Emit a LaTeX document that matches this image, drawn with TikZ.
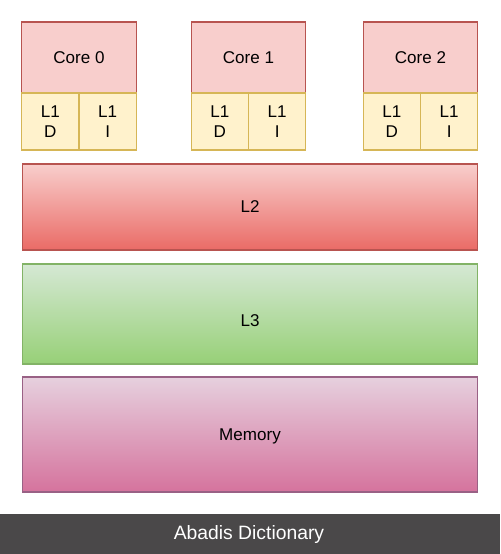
\documentclass[tikz,border=0pt]{standalone}
\usepackage{fontspec}
\setmainfont{Liberation Sans}
\usetikzlibrary{positioning}

\definecolor{corefill}{HTML}{F8CECC}
\definecolor{coreline}{HTML}{B85450}
\definecolor{lonefill}{HTML}{FFF2CC}
\definecolor{loneline}{HTML}{D6B656}
\definecolor{ltwobot}{HTML}{EA6B66}
\definecolor{lthreetop}{HTML}{D5E8D4}
\definecolor{lthreebot}{HTML}{97D077}
\definecolor{lthreeline}{HTML}{82B366}
\definecolor{memtop}{HTML}{E6D0DE}
\definecolor{membot}{HTML}{D5739D}
\definecolor{memline}{HTML}{996185}
\definecolor{bannerbg}{HTML}{4A4849}

\tikzset{
    corebox/.style={draw=coreline, fill=corefill, line width=0.6pt, minimum width=2.29cm, minimum height=1.42cm, inner sep=0pt, outer sep=0pt},
    lonebox/.style={draw=loneline, fill=lonefill, line width=0.6pt, minimum width=1.145cm, minimum height=1.14cm, inner sep=0pt, outer sep=0pt, align=center, anchor=north west},
    layerbox/.style={line width=0.6pt, minimum width=9.12cm, inner sep=0pt},
}

\begin{document}
\begin{tikzpicture}[x=0.02cm, y=-0.02cm, font=\fontsize{9.7}{11.5}\selectfont]
    \useasboundingbox (0,0) rectangle (500,554);

    % 核心
    \node[corebox] (core0) at (79, 57.5) {Core 0};
    \node[corebox] (core1) at (248.5, 57.5) {Core 1};
    \node[corebox] (core2) at (420.5, 57.5) {Core 2};

    % L1 缓存
    \node[lonebox] (d0) at (core0.south west) {L1\\D};
    \node[lonebox] (i0) at (d0.north east) {L1\\I};
    \node[lonebox] (d1) at (core1.south west) {L1\\D};
    \node[lonebox] (i1) at (d1.north east) {L1\\I};
    \node[lonebox] (d2) at (core2.south west) {L1\\D};
    \node[lonebox] (i2) at (d2.north east) {L1\\I};

    % 共享层
    \node[layerbox, draw=coreline, top color=corefill, bottom color=ltwobot, minimum height=1.72cm] (l2) at (250, 207) {L2};
    \node[layerbox, draw=lthreeline, top color=lthreetop, bottom color=lthreebot, minimum height=2.0cm] (l3) at (250, 314) {};
    \node (l3text) at (250, 321) {L3};
    \node[layerbox, draw=memline, top color=memtop, bottom color=membot, minimum height=2.3cm] (mem) at (250, 434.5) {};
    \node (memtext) at (250, 436) {Memory};

    % 底栏
    \fill[bannerbg] (0, 514) rectangle (500, 554);
    \node[text=white, font=\fontsize{11}{13}\selectfont] (banner) at (249, 534) {Abadis Dictionary};
\end{tikzpicture}
\end{document}
